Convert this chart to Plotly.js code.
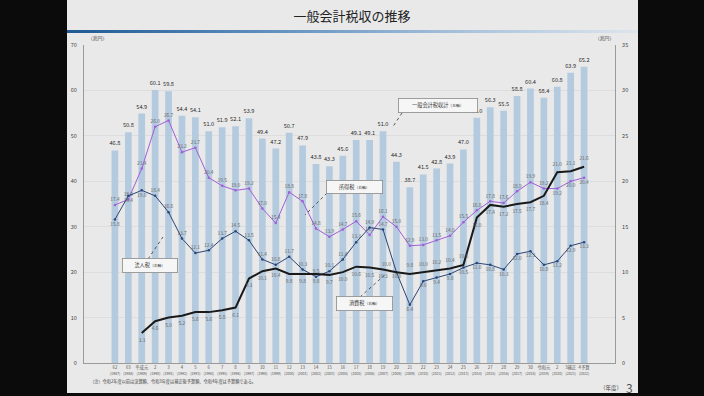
<!DOCTYPE html>
<html>
<head>
<meta charset="utf-8">
<script src="https://cdn.plot.ly/plotly-3.0.1.min.js"></script>
<style>
html,body{margin:0;padding:0;background:#0b0b0b;width:704px;height:396px;overflow:hidden;}
#slide{position:absolute;left:67px;top:0;width:571px;height:393px;background:#e9e9e9;}
#rule{position:absolute;left:67px;top:30px;width:571px;height:3px;background:linear-gradient(to right,#1f5a94,#5f8fbf 35%,#aac3dc 70%,#dde5ee);}
#chart{position:absolute;left:0;top:0;width:704px;height:396px;}
</style>
</head>
<body>
<div id="slide"></div>
<div id="rule"></div>
<div id="chart"></div>
<script>
// ---- data ----
const years = ['1987','1988','1989','1990','1991','1992','1993','1994','1995','1996','1997','1998','1999','2000','2001','2002','2003','2004','2005','2006','2007','2008','2009','2010','2011','2012','2013','2014','2015','2016','2017','2018','2019','2020','2021','2022'];
const eraLabels = ['62','63','平成元','2','3','4','5','6','7','8','9','10','11','12','13','14','15','16','17','18','19','20','21','22','23','24','25','26','27','28','29','30','令和元','2','3補正','4予算'];
const totalRevenue = [46.8,50.8,54.9,60.1,59.8,54.4,54.1,51.0,51.9,52.1,53.9,49.4,47.2,50.7,47.9,43.8,43.3,45.6,49.1,49.1,51.0,44.3,38.7,41.5,42.8,43.9,47.0,54.0,56.3,55.5,58.8,60.4,58.4,60.8,63.9,65.2];
const incomeTax = [17.4,18.0,21.4,26.0,26.7,23.2,23.7,20.4,19.5,19.0,19.2,17.0,15.4,18.8,17.8,14.8,13.9,14.7,15.6,14.1,16.1,15.0,12.9,13.0,13.5,14.0,15.5,16.8,17.8,17.6,18.9,19.9,19.2,19.2,20.0,20.4];
const corpTax = [15.8,18.4,19.0,18.4,16.6,13.7,12.1,12.4,13.7,14.5,13.5,11.4,10.8,11.7,10.3,9.5,10.1,11.4,13.3,14.9,14.7,10.0,6.4,9.0,9.4,9.8,10.5,11.0,10.8,10.3,12.0,12.3,10.8,11.2,12.9,13.3];
const consTax = [null,null,3.3,4.6,5.0,5.2,5.6,5.6,5.8,6.1,9.3,10.1,10.4,9.8,9.8,9.8,9.7,10.0,10.6,10.5,10.3,10.0,9.8,10.0,10.2,10.4,10.8,16.0,17.4,17.2,17.5,17.7,18.4,21.0,21.1,21.6];

const FONT = '"Noto Sans CJK JP", "Noto Sans", sans-serif';
const fmt = v => (v === null ? '' : v.toFixed(1));

const tickText = eraLabels.map((e, i) => e + '<br><span style="font-size:3.6px">(' + years[i] + ')</span>');

// label placements
const incomePos = incomeTax.map((v, i) => (i >= 33 ? 'bottom center' : 'top center'));
const corpPos = corpTax.map((v, i) => ((i <= 2 || i >= 21) ? 'bottom center' : 'top center'));
const consPos = consTax.map((v, i) => {
  if (i === 21) return 'top left';
  return ((i >= 22 && i <= 26) || i >= 33) ? 'top center' : 'bottom center';
});

const traces = [
  {
    type: 'bar', x: years, y: totalRevenue, name: '一般会計税収',
    marker: {color: '#b4cadf'}, width: 0.5,
    text: totalRevenue.map(fmt), textposition: 'outside', constraintext: 'none',
    textfont: {size: 5.6, color: '#2a2a2a', family: FONT}, cliponaxis: false,
    hoverinfo: 'x+y'
  },
  {
    type: 'scatter', mode: 'lines+markers+text', x: years, y: incomeTax, yaxis: 'y2', name: '所得税',
    line: {color: '#a05fd6', width: 1}, marker: {color: '#a05fd6', size: 2.5},
    text: incomeTax.map(fmt), textposition: incomePos,
    textfont: {size: 4.8, color: '#666', family: FONT}, cliponaxis: false
  },
  {
    type: 'scatter', mode: 'lines+markers+text', x: years, y: corpTax, yaxis: 'y2', name: '法人税',
    line: {color: '#2c4675', width: 1}, marker: {color: '#2c4675', size: 2.5},
    text: corpTax.map(fmt), textposition: corpPos,
    textfont: {size: 4.8, color: '#666', family: FONT}, cliponaxis: false
  },
  {
    type: 'scatter', mode: 'lines+markers+text', x: years, y: consTax, yaxis: 'y2', name: '消費税',
    line: {color: '#1a1a1a', width: 2}, marker: {size: 7, color: '#1a1a1a', opacity: 0},
    text: consTax.map(fmt), textposition: consPos,
    textfont: {size: 4.8, color: '#666', family: FONT}, cliponaxis: false
  }
];

// pixel -> paper helpers (plot area: x 84..615, y 45..363)
const L = 84, R = 615, T = 45, B = 363;
const px = x => (x - L) / (R - L);
const py = y => (B - y) / (B - T);

function box(text, cx, cy, w, h) {
  return {
    xref: 'paper', yref: 'paper', x: px(cx), y: py(cy), xanchor: 'center', yanchor: 'middle',
    text: text, showarrow: false, width: w, height: h,
    bgcolor: '#f6f6f6', bordercolor: '#8a8a8a', borderwidth: 0.8, borderpad: 0,
    font: {size: 5.2, color: '#333', family: FONT}
  };
}
function dash(x0, y0, x1, y1) {
  return {type: 'line', xref: 'paper', yref: 'paper', x0: px(x0), y0: py(y0), x1: px(x1), y1: py(y1),
    line: {color: '#333', width: 0.8, dash: 'dot'}};
}

const layout = {
  width: 704, height: 396,
  margin: {l: L, r: 704 - R, t: T, b: 396 - B},
  paper_bgcolor: 'rgba(0,0,0,0)', plot_bgcolor: 'rgba(0,0,0,0)',
  font: {family: FONT, color: '#444'},
  showlegend: false,
  title: {text: '一般会計税収の推移', x: 0.5, xref: 'container', xanchor: 'center',
    y: 1 - 16 / 396, yref: 'container', yanchor: 'middle',
    font: {size: 13, color: '#222', family: FONT}},
  xaxis: {type: 'category', tickvals: years, ticktext: tickText, tickangle: 0,
    tickfont: {size: 4.3, color: '#555', family: FONT}, ticks: '', showgrid: false,
    showline: true, linecolor: '#9a9a9a', linewidth: 1, zeroline: false, fixedrange: true},
  yaxis: {range: [0, 70], dtick: 10, showgrid: true, gridcolor: '#d6d6d6', gridwidth: 0.6,
    showline: true, linecolor: '#9a9a9a', linewidth: 1, zeroline: false, ticks: '',
    tickfont: {size: 5.5, color: '#444', family: FONT}, ticklabelstandoff: 5},
  yaxis2: {range: [0, 35], dtick: 5, overlaying: 'y', side: 'right', showgrid: false,
    showline: true, linecolor: '#9a9a9a', linewidth: 1, zeroline: false, ticks: '',
    tickfont: {size: 5.5, color: '#444', family: FONT}, ticklabelstandoff: 5},
  bargap: 0.5,
  annotations: [
    {xref: 'paper', yref: 'paper', x: px(86), y: py(38), xanchor: 'left', yanchor: 'middle', showarrow: false,
      text: '（兆円）', font: {size: 4.8, color: '#444', family: FONT}},
    {xref: 'paper', yref: 'paper', x: px(616), y: py(38), xanchor: 'right', yanchor: 'middle', showarrow: false,
      text: '（兆円）', font: {size: 4.8, color: '#444', family: FONT}},
    box('一般会計税収計<span style="font-size:3.8px">（左軸）</span>', 438, 106, 78, 13),
    box('所得税<span style="font-size:3.8px">（右軸）</span>', 354, 187, 55, 12),
    box('法人税<span style="font-size:3.8px">（右軸）</span>', 150, 265, 54, 13),
    box('消費税<span style="font-size:3.8px">（右軸）</span>', 364, 303, 55, 13),
    {xref: 'paper', yref: 'paper', x: px(88), y: py(381), xanchor: 'left', yanchor: 'middle', showarrow: false,
      text: '（注）令和2年度以前は決算額、令和3年度は補正後予算額、令和4年度は予算額である。',
      font: {size: 4.2, color: '#444', family: FONT}},
    {xref: 'paper', yref: 'paper', x: px(624), y: py(388), xanchor: 'right', yanchor: 'middle', showarrow: false,
      text: '（年度）', font: {size: 5.5, color: '#444', family: FONT}},
    {xref: 'paper', yref: 'paper', x: px(624), y: py(387), xanchor: 'left', yanchor: 'middle', showarrow: false,
      text: '3', font: {size: 12, color: '#555', family: FONT}}
  ],
  shapes: [
    dash(402, 113, 392, 128),
    dash(327, 193, 305, 215),
    dash(148, 259, 163, 237),
    dash(360, 297, 387, 273)
  ]
};

Plotly.newPlot('chart', traces, layout, {displayModeBar: false, staticPlot: true});
</script>
</body>
</html>
